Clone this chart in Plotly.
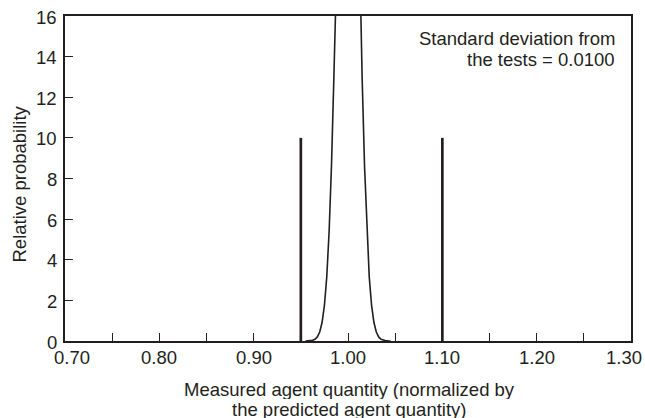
import plotly.graph_objects as go

# probability curve (peak runs off the top)
curve_x = [0.955, 0.9575, 0.96, 0.9625, 0.965, 0.9675, 0.97, 0.9725, 0.975, 0.9775,
           0.98, 0.9825, 0.985, 0.9875, 0.99, 0.9925, 0.995, 0.9975, 1.0,
           1.0025, 1.005, 1.0075, 1.01, 1.0125, 1.015, 1.0175, 1.02, 1.0225,
           1.025, 1.0275, 1.03, 1.0325, 1.035, 1.0375, 1.04, 1.0425, 1.045]
curve_y = [0.0, 0.005, 0.013, 0.035, 0.087, 0.20, 0.44, 0.91, 1.75, 3.17,
           5.40, 8.64, 12.95, 18.26, 24.20, 30.11, 35.21, 38.66, 39.89,
           38.66, 35.21, 30.11, 24.20, 18.26, 12.95, 8.64, 5.40, 3.17,
           1.75, 0.91, 0.44, 0.20, 0.087, 0.035, 0.013, 0.005, 0.0]

# limit markers
limit_x = [0.95, 1.10]
limit_height = [10, 10]

x_ticks = [0.70, 0.80, 0.90, 1.00, 1.10, 1.20, 1.30]
y_ticks = [0, 2, 4, 6, 8, 10, 12, 14, 16]

note_lines = ["Standard deviation from", "the tests = 0.0100"]
xtitle_lines = ["Measured agent quantity (normalized by", "the predicted agent quantity)"]
ytitle = "Relative probability"

ink = "#231f20"
fnt = dict(family="Liberation Sans, Arial, sans-serif", size=18.5, color=ink)

lx, ly = [], []
for x, h in zip(limit_x, limit_height):
    lx += [x, x, None]
    ly += [0, h, None]

fig = go.Figure()
fig.add_trace(go.Scatter(x=lx, y=ly, mode="lines",
                         line=dict(color=ink, width=2.7), hoverinfo="skip"))
fig.add_trace(go.Scatter(x=curve_x, y=curve_y, mode="lines",
                         line=dict(color=ink, width=1.6)))

annos = [
    dict(text=note_lines[0], x=0.975, y=0.932, xanchor="right", yanchor="middle"),
    dict(text=note_lines[1], x=0.975, y=0.865, xanchor="right", yanchor="middle"),
    dict(text=xtitle_lines[0], x=0.5035, y=-0.149, xanchor="center", yanchor="middle", height=19),
    dict(text=xtitle_lines[1], x=0.5035, y=-0.2105, xanchor="center", yanchor="middle", height=19),
    dict(text=ytitle, x=-0.0795, y=0.4815, xanchor="center", yanchor="middle", textangle=-90),
]
for a in annos:
    a.update(xref="paper", yref="paper")

# tick labels as annotations: end labels sit inward of their ticks, and the
# top one would otherwise be dropped at the page edge
for i, v in enumerate(x_ticks):
    shift = 7 if i == 0 else (-7 if i == len(x_ticks) - 1 else 0)
    annos.append(dict(text="%.2f" % v, x=v, xref="x", y=-0.0523, yref="paper",
                      xanchor="center", yanchor="middle", xshift=shift))
for v in y_ticks:
    annos.append(dict(text="%d" % v, x=-0.0106, xref="paper", y=v, yref="y",
                      xanchor="right", yanchor="middle", yshift=-1))
for a in annos:
    a.update(showarrow=False, font=fnt)

fig.update_layout(
    width=645, height=418,
    margin=dict(l=65, r=14, t=16, b=77),
    paper_bgcolor="white", plot_bgcolor="white",
    showlegend=False,
    font=fnt,
    annotations=annos,
    xaxis=dict(range=[0.70, 1.30], tickvals=x_ticks, showticklabels=False,
               ticks="inside", ticklen=8, tickwidth=1.3, tickcolor=ink,
               minor=dict(dtick=0.05, ticks="inside", ticklen=8, tickwidth=1.3, tickcolor=ink),
               showline=True, linewidth=2.2, linecolor=ink, mirror=True,
               showgrid=False, zeroline=False, fixedrange=True),
    yaxis=dict(range=[0, 16], tickvals=y_ticks, showticklabels=False,
               ticks="inside", ticklen=8, tickwidth=1.3, tickcolor=ink,
               showline=True, linewidth=2, linecolor=ink, mirror=True,
               showgrid=False, zeroline=False, fixedrange=True),
)

# drop the default page margin so the 645x418 figure fills the window exactly
fig.write_html("out.html", config={"displayModeBar": False},
               post_script="document.body.style.margin='0';"
                           "document.documentElement.style.overflow='hidden';")
